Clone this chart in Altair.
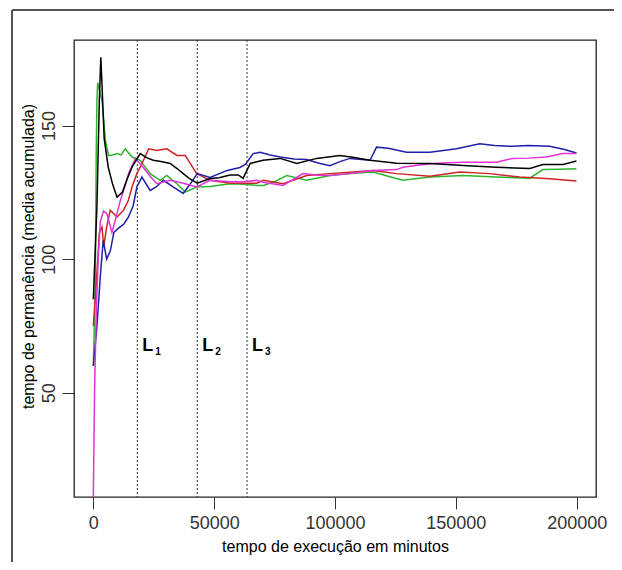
import altair as alt
import pandas as pd

# ---- data ----
black_x = [0, 1500, 2500, 3100, 3600, 4500, 6200, 8000, 9800, 12000, 14000, 16000, 19400, 22000, 24800,
           28000, 31800, 34500, 37200, 40000, 43000, 48300, 52000, 56600, 60000, 62000, 64900, 70200,
           77300, 84200, 92400, 102000, 108000, 114500, 125500, 139300, 153000, 166800, 180600, 186000,
           194400, 199900]
black_y = [85, 120, 160, 175.5, 165, 145, 134.3, 128, 123.2, 125, 130, 134.4, 139.5, 138, 137,
           136.5, 135.8, 134, 132, 130, 128.4, 130.2, 130.5, 131.5, 131.5, 130.2, 135.8, 137,
           137.7, 135.8, 137.7, 138.8, 138, 137, 135.9, 135.8, 135, 134.4, 133.9, 135.4,
           135.4, 136.7]

blue_x = [0, 1500, 3000, 4100, 5500, 7000, 8500, 10300, 12500, 14500, 16500, 18000, 20100, 23500, 26000,
          29000, 33000, 37200, 40000, 43000, 48300, 55400, 60700, 63000, 66100, 69000, 73100, 77300,
          83000, 88300, 93000, 97900, 102000, 106200, 114500, 117200, 122000, 129600, 139300, 150300,
          159900, 166000, 173600, 180000, 188800, 195000, 199900]
blue_y = [60, 75, 95, 107, 100, 103, 110, 111.5, 113, 115.7, 120, 127, 130.7, 125.7, 127,
          129.5, 127, 124.6, 128, 132, 130.6, 133.2, 134.3, 135.5, 139.5, 140, 139, 138.2,
          137.5, 137.3, 136, 135, 136.5, 137.7, 137, 141.9, 141.5, 140, 140, 141.3,
          143.2, 142.5, 142.2, 142.5, 142.2, 141, 139.7]

magenta_x = [0, 500, 1200, 2000, 2900, 4200, 5600, 7700, 9500, 11200, 13000, 14600, 17400, 20700, 23500,
             26300, 31800, 37200, 42800, 48300, 56600, 62000, 67600, 70200, 78500, 82000, 86800, 92000,
             97900, 106200, 115700, 125500, 128100, 135000, 142000, 153000, 166800, 173600, 180000,
             187500, 194200, 199900]
magenta_y = [11, 50, 80, 100, 114, 118, 117, 110, 116, 122, 127, 132, 137.7, 134.3, 131,
             128.2, 129.5, 128.4, 127, 129.5, 129, 129, 129.5, 128.8, 127.6, 129.5, 132, 131.5,
             131.3, 132, 133.2, 133.5, 134.4, 135.2, 135.9, 136.3, 136.3, 137.7, 137.8,
             138.2, 139.5, 139.5]

green_x = [0, 800, 1200, 1500, 1800, 2600, 3600, 5000, 6300, 8000, 9800, 11500, 13200, 16000, 19400,
           23500, 27700, 30400, 34600, 38000, 42800, 48300, 56600, 62000, 67600, 70400, 75000, 80000,
           88300, 97900, 106000, 115800, 122000, 128100, 139300, 153000, 166800, 180600, 186000,
           193000, 199900]
green_y = [60, 90, 140, 160, 166, 163, 159.3, 144.4, 138.8, 139, 139.5, 139, 141.3, 138.2, 137,
           132, 129.5, 131.3, 128.2, 125.1, 127, 127.2, 128.2, 128, 127.6, 127.6, 129, 131.3,
           129.5, 131.3, 132, 132.6, 131, 129.5, 130.7, 131.3, 130.7, 130.3, 133.5,
           133.6, 133.8]

red_x = [0, 1500, 2500, 3600, 4300, 5500, 7000, 9800, 12500, 14500, 16000, 18000, 20100, 22900, 26300,
         30400, 34600, 38000, 42800, 48300, 56600, 62000, 67600, 70400, 78500, 88300, 97900, 106000,
         115800, 125500, 139300, 151700, 164000, 176400, 188800, 199900]
red_y = [75, 95, 110, 112, 104.6, 112, 118.3, 115.8, 118.3, 122, 127, 132, 135.7, 141.3, 140.7,
         141.3, 138.8, 138.8, 132, 129.5, 128.4, 128.4, 128.4, 129.5, 128.2, 131.3, 132, 132.5,
         133.2, 132, 131, 132.6, 132, 130.7, 130.1, 129.2]

series_names = ["green", "red", "blue", "magenta", "black"]
series_colors = ["#2db52d", "#cc2424", "#1f1fa8", "#e032d6", "#000000"]

limit_x = [18200, 43000, 63600]
limit_sub = ["1", "2", "3"]
limit_label_y = [65.7, 65.7, 65.7]
limit_sub_y = [64.2, 64.2, 64.2]

x_ticks = [0, 50000, 100000, 150000, 200000]
y_ticks = [50, 100, 150]

# ---- build tables ----
rows = []
for name, xs, ys in [("green", green_x, green_y), ("red", red_x, red_y), ("blue", blue_x, blue_y),
                     ("magenta", magenta_x, magenta_y), ("black", black_x, black_y)]:
    for i, (a, b) in enumerate(zip(xs, ys)):
        rows.append({"series": name, "t": a, "v": b, "order": i})
df = pd.DataFrame(rows)
lim = pd.DataFrame({"x": limit_x, "sub": limit_sub, "ly": limit_label_y, "sy": limit_sub_y})

W, H = 522, 457
font = "Liberation Sans"

xscale = alt.Scale(domain=[-8000, 208000], nice=False, zero=False)
yscale = alt.Scale(domain=[11, 182], nice=False, zero=False)

lines = alt.Chart(df).mark_line(strokeWidth=1.5, clip=True).encode(
    x=alt.X("t:Q", scale=xscale,
            axis=alt.Axis(values=x_ticks, format="d", title="tempo de execução em minutos",
                          grid=False, domain=False, tickSize=12, tickColor="#333",
                          labelFontSize=18, labelColor="#333", labelPadding=5,
                          titleFontSize=16, titleFontWeight="normal", titleColor="#000",
                          titlePadding=6, labelFont=font, titleFont=font)),
    y=alt.Y("v:Q", scale=yscale,
            axis=alt.Axis(values=y_ticks, title="tempo de permanência (media acumulada)",
                          grid=False, domain=False, tickSize=12, tickColor="#333",
                          labelFontSize=18, labelColor="#333", labelAngle=270,
                          labelAlign="center", labelBaseline="bottom", labelPadding=4,
                          titleFontSize=16, titleFontWeight="normal", titleColor="#000",
                          titlePadding=4, titleY=216, labelFont=font, titleFont=font)),
    color=alt.Color("series:N", scale=alt.Scale(domain=series_names, range=series_colors), legend=None),
    order="order:Q",
)

rules = alt.Chart(lim).mark_rule(color="#333", strokeDash=[2, 2], strokeWidth=1).encode(x="x:Q")

ltext = alt.Chart(lim).mark_text(text="L", font=font, fontSize=18, fontWeight="bold",
                                  align="left", baseline="alphabetic", dx=5, color="#000").encode(
    x="x:Q", y="ly:Q")
stext = alt.Chart(lim).mark_text(font=font, fontSize=10, fontWeight="bold",
                                  align="left", baseline="alphabetic", dx=18, color="#000").encode(
    x="x:Q", y="sy:Q", text="sub:N")

one = pd.DataFrame({"a": [0]})
frame_left = alt.Chart(one).mark_rule(color="#555", strokeWidth=2).encode(
    x=alt.value(-62), y=alt.value(-30), y2=alt.value(H + 90))
frame_top = alt.Chart(one).mark_rule(color="#555", strokeWidth=2).encode(
    x=alt.value(-62), x2=alt.value(W + 40), y=alt.value(-30))

chart = alt.layer(frame_left, frame_top, rules, lines, ltext, stext).properties(
    width=W, height=H,
    background="white",
    autosize=alt.AutoSizeParams(type="none"),
    padding={"left": 66, "top": 32, "right": 18, "bottom": 65},
).configure_view(stroke="#222222", strokeWidth=1.3)

chart.save("out.html", embed_options={"renderer": "svg", "actions": False})
